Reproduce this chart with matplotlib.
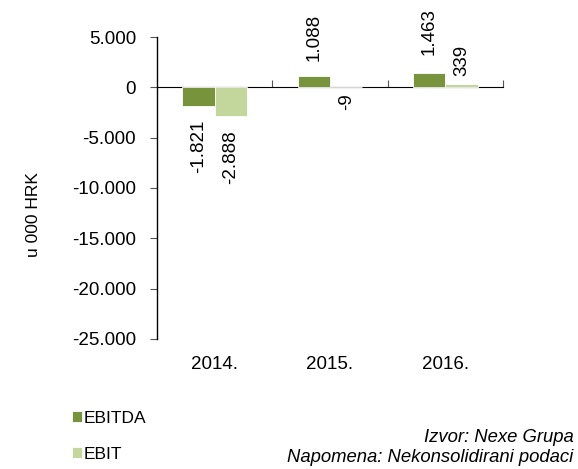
import matplotlib.pyplot as plt
import numpy as np
from matplotlib.ticker import FuncFormatter

plt.rcParams['font.family'] = ['Liberation Sans', 'DejaVu Sans']

years = ['2014.', '2015.', '2016.']
ebitda = [-1821, 1088, 1463]
ebit = [-2888, -9, 339]
ebitda_labels = ['-1.821', '1.088', '1.463']
ebit_labels = ['-2.888', '-9', '339']

c_ebitda = '#77933C'
c_ebit = '#C3D69B'

fig = plt.figure(figsize=(5.78, 4.69), dpi=100)
ax = fig.add_axes([0.2716, 0.2772, 0.5986, 0.6439])

x = np.arange(len(years))
w = 0.28
b1 = ax.bar(x - w / 2, ebitda, w, color=c_ebitda, edgecolor='white', linewidth=0.6, label='EBITDA')
b2 = ax.bar(x + w / 2, ebit, w, color=c_ebit, edgecolor='white', linewidth=0.6, label='EBIT')

# Excel-style label gaps differ per label
pads = [[10, 11, 13], [10, 4.5, 6]]
for cont, labs, pd_ in zip([b1, b2], [ebitda_labels, ebit_labels], pads):
    anns = ax.bar_label(cont, labels=labs, rotation=90, padding=5, fontsize=13.5)
    for ann, p, v in zip(anns, pd_, cont.datavalues):
        ann.xyann = (0, p if v >= 0 else -p)

ax.set_xlim(-0.5, 2.5)
ax.set_ylim(-25000, 5000)
ax.set_yticks(np.arange(-25000, 5001, 5000))
ax.yaxis.set_major_formatter(FuncFormatter(lambda v, p: f'{int(v):,}'.replace(',', '.')))
ax.set_xticks(x)
ax.set_xticklabels(years)
ax.tick_params(axis='x', length=0, labelsize=13.5, pad=12)
ax.tick_params(axis='y', length=5, labelsize=13.5, width=0.8, pad=10, color='#555555')

for s in ['top', 'right', 'bottom']:
    ax.spines[s].set_visible(False)
ax.spines['left'].set_linewidth(1.0)

# zero line with category boundary ticks
zero_frac = (0 - (-25000)) / 30000
sec = ax.secondary_xaxis(zero_frac)
sec.set_xticks([0.5, 1.5, 2.5])
sec.set_xticklabels([])
sec.tick_params(axis='x', direction='out', length=5, width=0.8, colors='#555555')
sec.spines['bottom'].set_linewidth(1.2)
sec.spines['bottom'].set_color('black')

fig.text(33 / 578, 1 - 215 / 469, 'u 000 HRK', rotation=90, ha='center', va='center', fontsize=12.5)

fig.legend(handles=[b1, b2], loc='center left', bbox_to_anchor=(72 / 578, 1 - 436.5 / 469),
           bbox_transform=fig.transFigure, frameon=False, fontsize=12.5,
           borderpad=0, borderaxespad=0,
           handlelength=0.6, handleheight=0.6, handletextpad=0.05, labelspacing=1.2)

fig.text(0.992, 1 - 437 / 469, 'Izvor: Nexe Grupa', ha='right', va='center', fontsize=13.3, style='italic')
fig.text(0.992, 1 - 457 / 469, 'Napomena: Nekonsolidirani podaci', ha='right', va='center',
         fontsize=13.3, style='italic')

fig.savefig('out.png', dpi=100)
